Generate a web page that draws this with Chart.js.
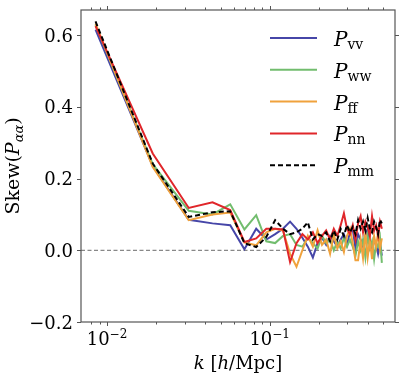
<!DOCTYPE html>
<html>
<head>
<meta charset="utf-8">
<script src="https://cdn.jsdelivr.net/npm/chart.js@4.4.1/dist/chart.umd.min.js"></script>
<style>
  html, body { margin: 0; padding: 0; background: #fff; }
  canvas { display: block; }
</style>
</head>
<body>
<canvas id="skewChart" width="407" height="383"></canvas>
<script>
// k bins (h/Mpc)
const kValues = [0.0085, 0.0191, 0.0318, 0.0445, 0.0572, 0.0699, 0.0826, 0.0953, 0.1080, 0.1207,
                 0.1334, 0.1461, 0.1588, 0.1715, 0.1842, 0.1969, 0.2096, 0.2223, 0.2350, 0.2477,
                 0.2604, 0.2731, 0.2858, 0.2985, 0.3112, 0.3239, 0.3366, 0.3493, 0.3620, 0.3747,
                 0.3874, 0.4001, 0.4128, 0.4255, 0.4382, 0.4509, 0.4636, 0.4763, 0.4890];

const skewVV = [0.615, 0.235, 0.085, 0.075, 0.070, 0.003, 0.060, 0.030, 0.045, 0.060,
                0.080, 0.060, 0.035, 0.010, -0.020, 0.020, 0.035, 0.015, 0.040, 0.025,
                0.010, 0.030, 0.045, 0.015, 0.050, 0.060, 0.005, 0.045, 0.030, 0.010,
                0.040, 0.060, 0.020, -0.005, 0.030, 0.015, -0.010, 0.020, -0.015];
const skewWW = [0.628, 0.240, 0.110, 0.100, 0.128, 0.058, 0.098, 0.025, 0.020, 0.040,
                0.045, 0.015, 0.010, 0.035, 0.020, 0.005, 0.040, 0.020, 0.030, 0.000,
                0.025, 0.005, 0.035, 0.010, 0.030, 0.010, -0.015, 0.025, 0.000, 0.030,
                -0.020, 0.040, 0.005, 0.025, -0.025, 0.020, 0.010, 0.035, -0.035];
const skewFF = [0.632, 0.232, 0.084, 0.100, 0.105, 0.022, 0.014, 0.050, 0.060, 0.055,
                -0.010, -0.046, 0.000, 0.040, 0.010, 0.056, 0.015, 0.030, -0.010, 0.045,
                0.005, 0.025, -0.005, 0.040, 0.060, 0.020, -0.028, -0.028, 0.030, -0.022,
                0.050, -0.020, 0.030, -0.025, 0.040, 0.010, 0.050, 0.005, 0.033];
const skewNN = [0.625, 0.270, 0.118, 0.134, 0.112, 0.023, 0.033, 0.060, 0.060, 0.058,
                -0.033, 0.020, 0.045, 0.030, 0.050, 0.020, 0.040, 0.055, 0.030, 0.060,
                0.040, 0.070, 0.103, 0.060, 0.045, 0.070, 0.030, 0.075, 0.095, 0.050,
                0.080, 0.065, 0.040, 0.095, 0.055, 0.070, 0.040, 0.080, 0.060];
const skewMM = [0.638, 0.242, 0.093, 0.106, 0.109, 0.020, 0.009, 0.037, 0.084, 0.060,
                0.045, 0.050, 0.060, 0.078, 0.030, 0.045, 0.040, 0.050, 0.025, 0.055,
                0.030, 0.060, 0.040, 0.070, 0.050, 0.065, 0.045, 0.084, 0.060, 0.080,
                0.055, 0.090, 0.060, 0.050, 0.080, 0.065, 0.045, 0.085, 0.075];

const seriesSubs = ['vv', 'ww', 'ff', 'nn', 'mm'];
const seriesValues = [skewVV, skewWW, skewFF, skewNN, skewMM];
const seriesColors = ['#4646a8', '#72bd6e', '#f0a23c', '#e0262a', '#000000'];

const yTickValues = [-0.2, 0.0, 0.2, 0.4, 0.6];
const yTickLabels = ['\u22120.2', '0.0', '0.2', '0.4', '0.6'];
const xMajorTicks = [0.01, 0.1];
const xMajorExponents = ['\u22122', '\u22121'];
const xMinorTicks = [0.008, 0.009, 0.02, 0.03, 0.04, 0.05, 0.06, 0.07, 0.08, 0.09, 0.2, 0.3, 0.4, 0.5];

const SERIF = '"DejaVu Serif", serif';
const AXIS_COLOR = '#555';

function drawRuns(ctx, runs, x, y, align) {
  let total = 0;
  runs.forEach(r => { ctx.font = r.font; r.w = ctx.measureText(r.text).width; total += r.w; });
  let cx = align === 'center' ? x - total / 2 : (align === 'right' ? x - total : x);
  runs.forEach(r => {
    ctx.font = r.font;
    ctx.fillText(r.text, cx, y + (r.dy || 0));
    cx += r.w;
  });
}

const mplAxes = {
  id: 'mplAxes',
  beforeDatasetsDraw(chart) {
    const ctx = chart.ctx, a = chart.chartArea;
    const y0 = chart.scales.y.getPixelForValue(0);
    ctx.save();
    ctx.strokeStyle = '#888';
    ctx.lineWidth = 1.2;
    ctx.setLineDash([4, 2.5]);
    ctx.beginPath();
    ctx.moveTo(a.left, y0);
    ctx.lineTo(a.right, y0);
    ctx.stroke();
    ctx.restore();
  },
  afterDraw(chart) {
    const ctx = chart.ctx, a = chart.chartArea;
    const xs = chart.scales.x, ys = chart.scales.y;
    ctx.save();
    // frame
    ctx.strokeStyle = AXIS_COLOR;
    ctx.lineWidth = 1.2;
    ctx.strokeRect(a.left, a.top, a.right - a.left, a.bottom - a.top);

    // ticks, pointing outward on all four sides
    ctx.lineWidth = 1;
    ctx.beginPath();
    const xTick = (v, len) => {
      const px = Math.round(xs.getPixelForValue(v)) + 0.5;
      ctx.moveTo(px, a.bottom); ctx.lineTo(px, a.bottom + len);
      ctx.moveTo(px, a.top); ctx.lineTo(px, a.top - len);
    };
    xMajorTicks.forEach(v => xTick(v, 4));
    xMinorTicks.forEach(v => xTick(v, 2.5));
    yTickValues.forEach(v => {
      const py = Math.round(ys.getPixelForValue(v)) + 0.5;
      ctx.moveTo(a.left, py); ctx.lineTo(a.left - 4, py);
      ctx.moveTo(a.right, py); ctx.lineTo(a.right + 4, py);
    });
    ctx.stroke();

    ctx.fillStyle = '#000';
    ctx.textBaseline = 'alphabetic';

    // y tick labels
    ctx.font = '18px ' + SERIF;
    ctx.textAlign = 'right';
    yTickValues.forEach((v, i) => {
      ctx.fillText(yTickLabels[i], a.left - 8, ys.getPixelForValue(v) + 6.5);
    });

    // x tick labels 10^n
    ctx.textAlign = 'left';
    xMajorTicks.forEach((v, i) => {
      drawRuns(ctx, [
        { text: '10', font: '18px ' + SERIF },
        { text: xMajorExponents[i], font: '12px ' + SERIF, dy: -7 }
      ], xs.getPixelForValue(v), 345, 'center');
    });

    // x axis title
    const cxa = (a.left + a.right) / 2;
    drawRuns(ctx, [
      { text: 'k', font: 'italic 18px ' + SERIF },
      { text: ' [', font: '18px ' + SERIF },
      { text: 'h', font: 'italic 18px ' + SERIF },
      { text: '/Mpc]', font: '18px ' + SERIF }
    ], cxa, 369, 'center');

    // y axis title
    ctx.save();
    ctx.translate(19, (a.top + a.bottom) / 2);
    ctx.rotate(-Math.PI / 2);
    drawRuns(ctx, [
      { text: 'Skew(', font: '19px ' + SERIF },
      { text: 'P', font: 'italic 19px ' + SERIF },
      { text: '\u03b1\u03b1', font: 'italic 13px ' + SERIF, dy: 4 },
      { text: ')', font: '19px ' + SERIF }
    ], 0, 0, 'center');
    ctx.restore();

    // legend
    chart.data.datasets.forEach((ds, i) => {
      const yc = 38 + i * 31.8;
      ctx.strokeStyle = ds.borderColor;
      ctx.lineWidth = 2;
      ctx.setLineDash(ds.borderDash || []);
      ctx.beginPath();
      ctx.moveTo(270, yc);
      ctx.lineTo(317, yc);
      ctx.stroke();
      ctx.setLineDash([]);
      drawRuns(ctx, [
        { text: 'P', font: 'italic 20px ' + SERIF },
        { text: ds.sub, font: '14px ' + SERIF, dy: 3 }
      ], 334, yc + 8, 'left');
    });
    ctx.restore();
  }
};

const datasets = seriesValues.map((vals, i) => ({
  label: 'P_' + seriesSubs[i],
  sub: seriesSubs[i],
  data: kValues.map((k, j) => ({ x: k, y: vals[j] })),
  borderColor: seriesColors[i],
  borderWidth: 2,
  borderDash: i === 4 ? [5, 3] : [],
  pointRadius: 0,
  tension: 0,
  fill: false,
  order: 5 - i
}));

new Chart(document.getElementById('skewChart').getContext('2d'), {
  type: 'line',
  data: { datasets: datasets },
  options: {
    responsive: false,
    animation: false,
    layout: { padding: { left: 81, right: 12, top: 10, bottom: 61 } },
    plugins: { legend: { display: false }, tooltip: { enabled: false } },
    scales: {
      x: { type: 'logarithmic', min: 0.00692, max: 0.589, display: false },
      y: { type: 'linear', min: -0.2, max: 0.67, display: false }
    }
  },
  plugins: [mplAxes]
});
</script>
</body>
</html>
